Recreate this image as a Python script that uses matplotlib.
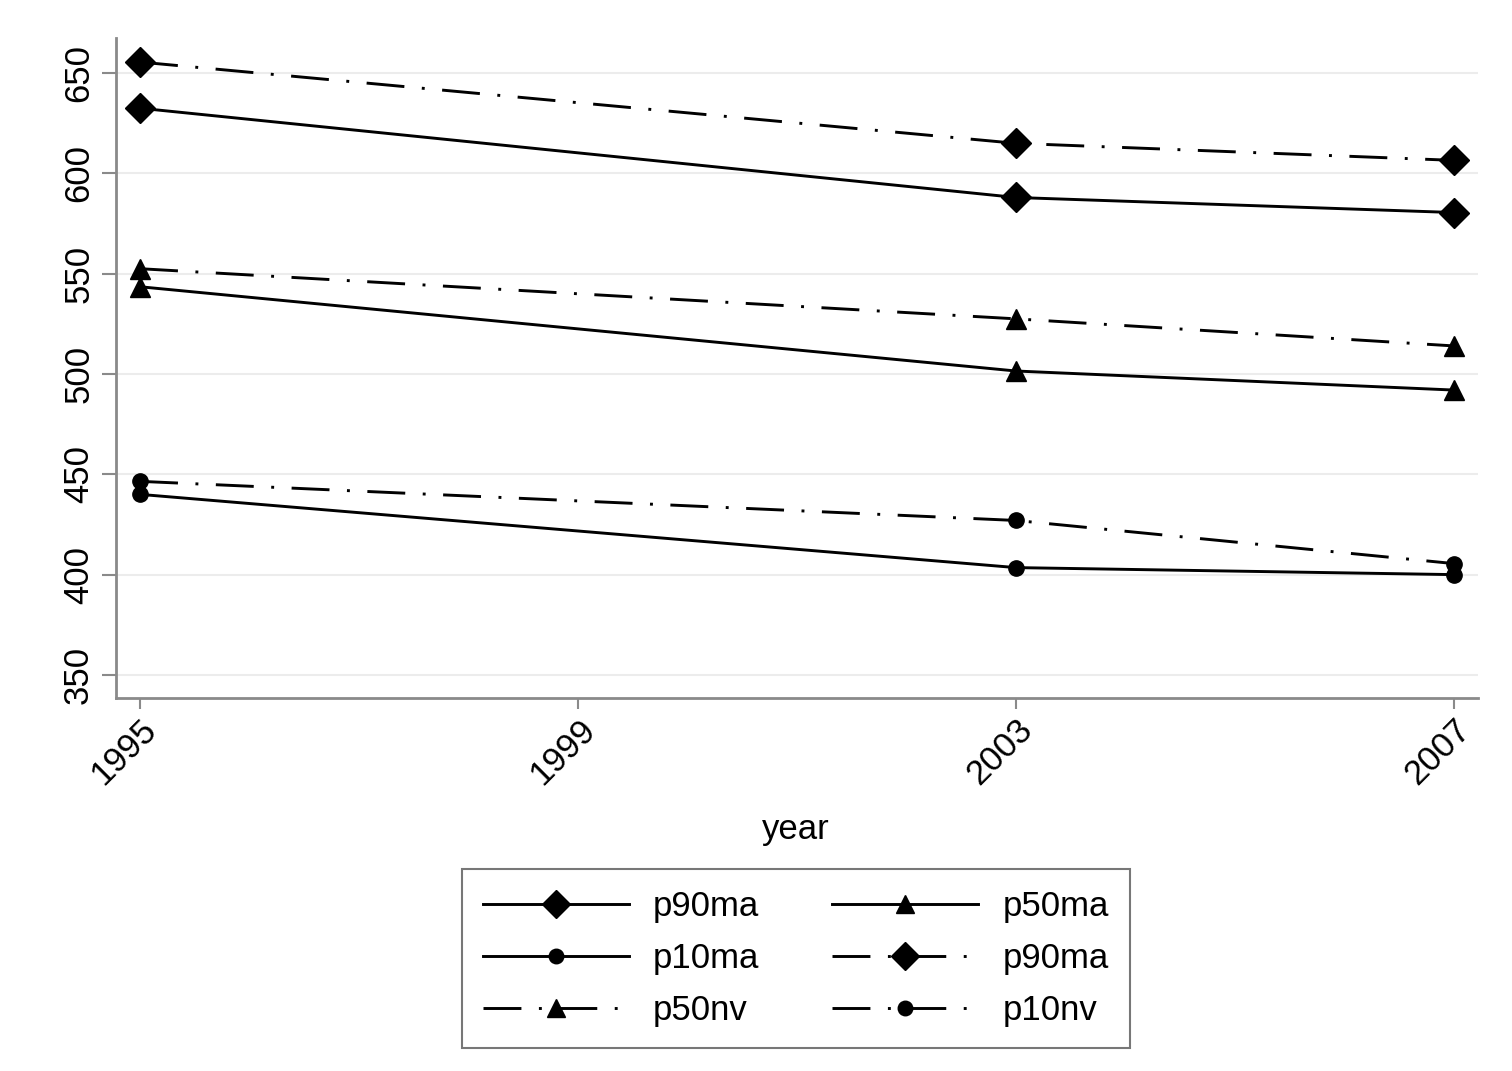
import matplotlib
matplotlib.use("Agg")
import matplotlib.pyplot as plt

years = [1995, 2003, 2007]
p90ma = [632.5, 588, 580.5]
p90nv = [655.5, 615, 606.5]
p50ma = [543.5, 501.5, 492]
p50nv = [552.5, 527.5, 514]
p10ma = [440, 403.5, 400]
p10nv = [446.5, 427, 405.5]

xticks = [1995, 1999, 2003, 2007]
yticks = [350, 400, 450, 500, 550, 600, 650]

plt.rcParams['font.family'] = ['Liberation Sans', 'DejaVu Sans']

fig = plt.figure(figsize=(15.12, 10.71), dpi=100)
ax = fig.add_axes([116/1512, 1-698/1071, (1478-116)/1512, (698-38)/1071])

dashdot = (13, 6, 1, 6)
lw = 2.1
series = [
    (p90ma, 'D', 15, '-', 'p90ma'),
    (p50ma, '^', 14, '-', 'p50ma'),
    (p10ma, 'o', 11, '-', 'p10ma'),
    (p90nv, 'D', 15, 'dd', 'p90ma'),
    (p50nv, '^', 14, 'dd', 'p50nv'),
    (p10nv, 'o', 11, 'dd', 'p10nv'),
]
handles = []
for vals, m, ms, ls, lab in series:
    if ls == 'dd':
        h, = ax.plot(years, vals, color='black', lw=lw, marker=m, ms=ms,
                     dashes=dashdot, label=lab)
    else:
        h, = ax.plot(years, vals, color='black', lw=lw, marker=m, ms=ms,
                     linestyle='-', label=lab)
    handles.append(h)

ax.set_xlim(1994.78, 2007.22)
ax.set_ylim(338.5, 667.5)
ax.set_xticks(xticks)
ax.set_yticks(yticks)
ax.set_xticklabels([str(x) for x in xticks], rotation=45, ha='right', va='top',
                   rotation_mode='anchor', fontsize=25)
ax.set_yticklabels([str(y) for y in yticks], rotation=90, va='center', fontsize=25)
ax.grid(axis='y', color='#ececec', lw=1.5)
ax.set_axisbelow(True)
for s in ['top', 'right']:
    ax.spines[s].set_visible(False)
for s in ['left', 'bottom']:
    ax.spines[s].set_color('#8a8a8a')
    ax.spines[s].set_linewidth(2)
ax.tick_params(axis='y', length=10, width=1.5, color='#8a8a8a', pad=5)
ax.tick_params(axis='x', length=8, width=1.5, color='#8a8a8a', pad=3)

fig.text(796/1512, 1-830/1071, 'year', ha='center', va='center', fontsize=25)

# legend order: row-major across two columns
order = [0, 2, 4, 1, 3, 5]
leg = fig.legend([handles[i] for i in order], [handles[i].get_label() for i in order],
                 ncol=2, loc='upper center', bbox_to_anchor=(796/1512, 1-869/1071),
                 borderaxespad=0, fontsize=25, handlelength=4.2, columnspacing=2.1,
                 handletextpad=0.7, labelspacing=0.55, frameon=True, fancybox=False,
                 borderpad=0.6, edgecolor='#555555', markerscale=0.95)
leg.get_frame().set_linewidth(1.5)

fig.savefig('out.png', dpi=100, facecolor='white')
